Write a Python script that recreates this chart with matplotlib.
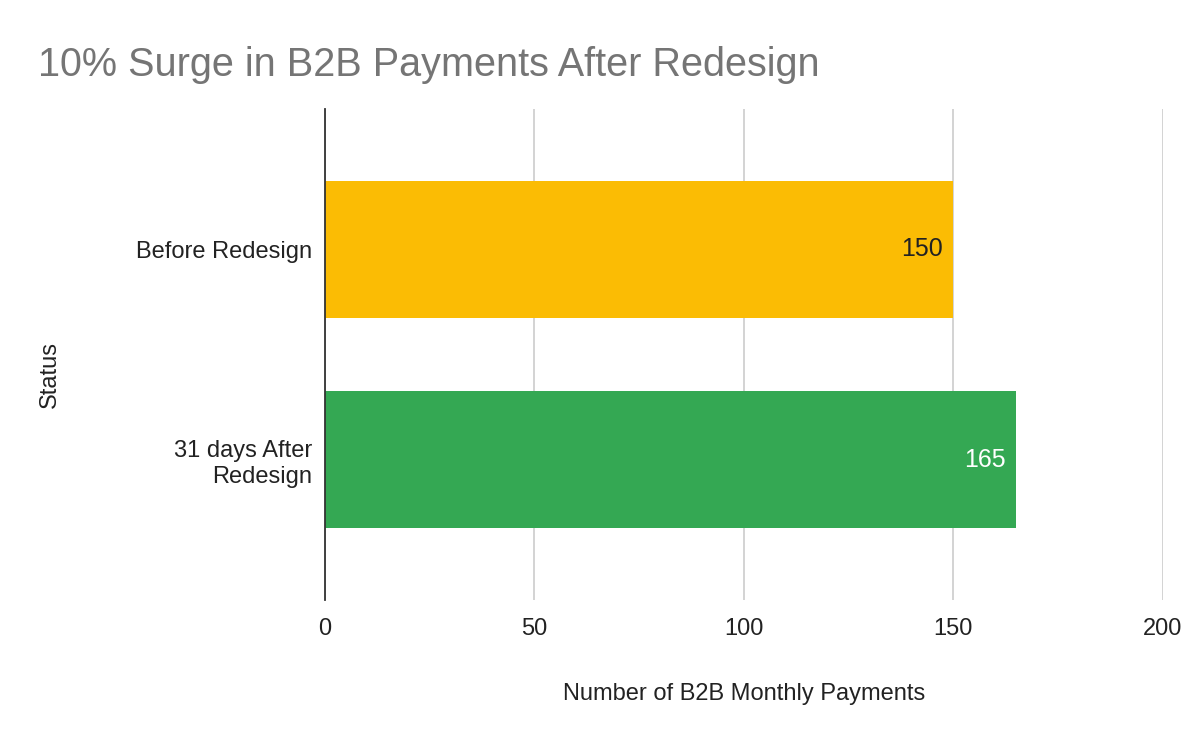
import matplotlib
matplotlib.use('Agg')
import matplotlib.pyplot as plt

categories = ['Before Redesign', '31 days After\nRedesign']
payments = [150, 165]
bar_colors = ['#FBBC04', '#34A853']
label_colors = ['#222222', '#FFFFFF']
x_ticks = [0, 50, 100, 150, 200]

plt.rcParams['font.family'] = ['Liberation Sans', 'DejaVu Sans']

fig = plt.figure(figsize=(12, 7.42), dpi=100)
ax = fig.add_axes([0.2708, 0.1914, 0.6983, 0.6617])

ypos = list(range(len(categories)))
bars = ax.barh(ypos, payments, height=0.65, color=bar_colors, zorder=3)
for bar, val, c in zip(bars, payments, label_colors):
    ax.text(val - 2.4, bar.get_y() + bar.get_height() / 2, str(val),
            ha='right', va='center', fontsize=18, color=c, zorder=4)

ax.set_xlim(0, 200)
ax.set_ylim(1.667, -0.667)
ax.set_xticks(x_ticks)
ax.set_yticks(ypos)
ax.set_yticklabels(categories, fontsize=17, color='#222222')
ax.tick_params(axis='x', length=0, pad=13, labelsize=17, labelcolor='#222222')
ax.tick_params(axis='y', length=0, pad=9)
ax.grid(axis='x', color='#CCCCCC', linewidth=1.2, zorder=0)
for s in ['top', 'right', 'bottom']:
    ax.spines[s].set_visible(False)
ax.spines['left'].set_color('#333333')
ax.spines['left'].set_linewidth(1.3)
ax.spines['left'].set_zorder(5)

ax.set_xlabel('Number of B2B Monthly Payments', fontsize=17, color='#222222', labelpad=31)
fig.text(50 / 1200, 1 - 375 / 742, 'Status', rotation=90, ha='center', va='center',
         fontsize=17, color='#222222')
fig.text(38 / 1200, 1 - 76 / 742, '10% Surge in B2B Payments After Redesign',
         fontsize=28.5, color='#757575', ha='left', va='baseline')

fig.savefig('out.png', dpi=100)
